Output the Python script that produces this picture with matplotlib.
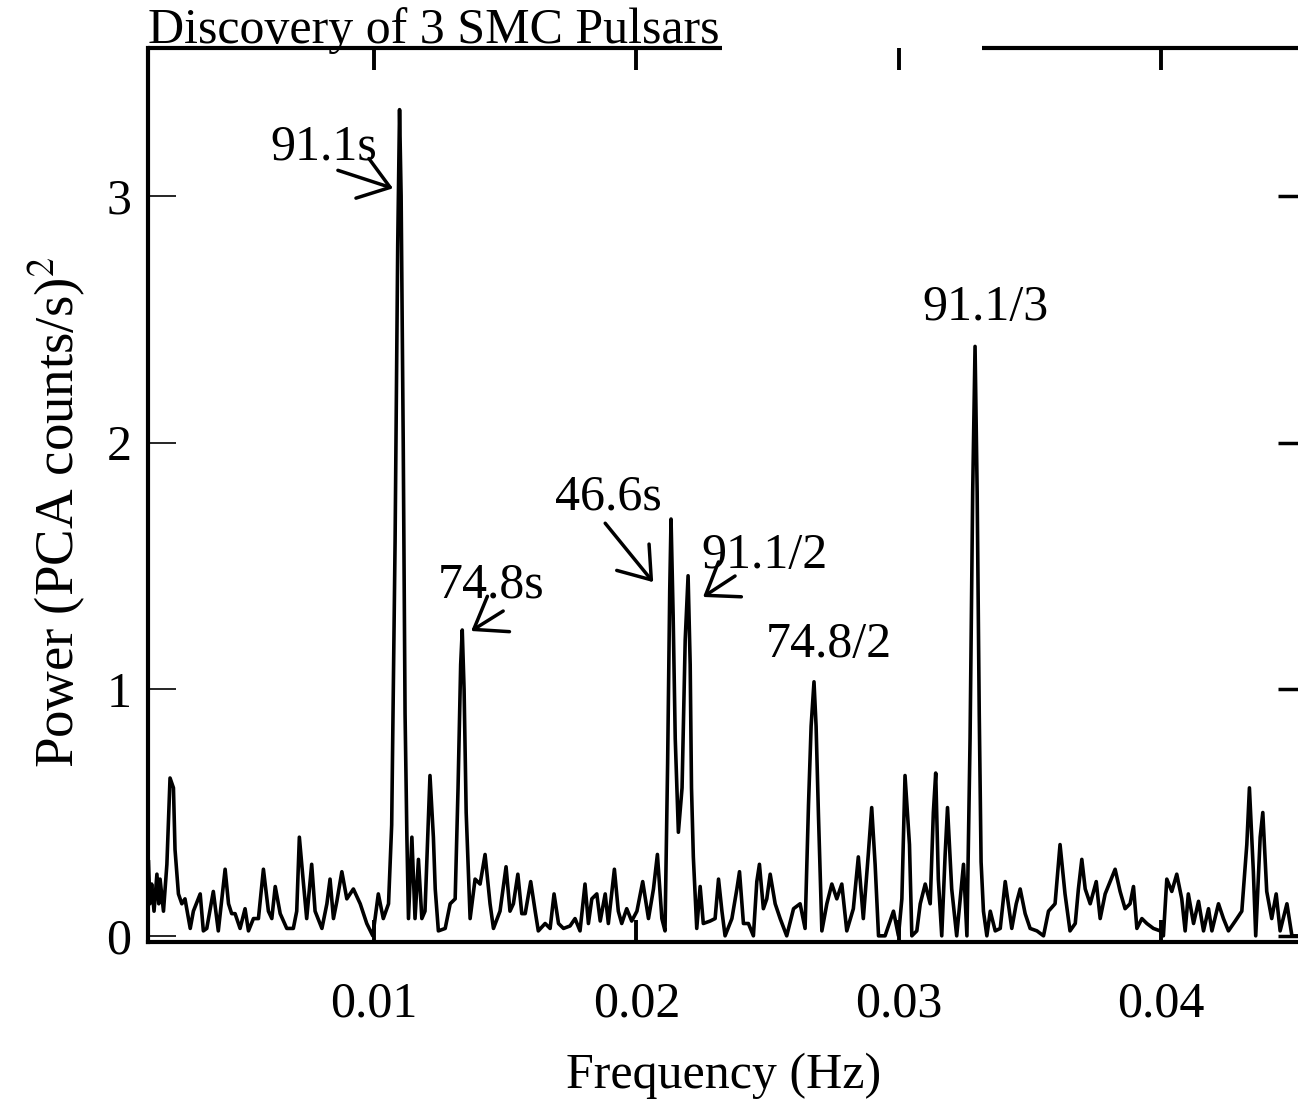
import matplotlib
matplotlib.use("Agg")
import matplotlib.pyplot as plt

plt.rcParams['font.family'] = ['Liberation Serif', 'DejaVu Serif']
plt.rcParams['mathtext.fontset'] = 'stix'

# power spectrum (Hz, (PCA counts/s)^2)
freq = [
    0.00140, 0.00145, 0.00152, 0.00161, 0.00172, 0.00179, 0.00184, 0.00197, 0.00210,
    0.00222, 0.00235, 0.00241, 0.00254, 0.00267, 0.00279, 0.00299, 0.00311, 0.00337,
    0.00349, 0.00362, 0.00387, 0.00406, 0.00432, 0.00445, 0.00457, 0.00470, 0.00489,
    0.00508, 0.00521, 0.00540, 0.00559, 0.00578, 0.00597, 0.00610, 0.00623, 0.00642,
    0.00667, 0.00692, 0.00705, 0.00715, 0.00730, 0.00743, 0.00762, 0.00775, 0.00801,
    0.00820, 0.00832, 0.00845, 0.00858, 0.00877, 0.00896, 0.00921, 0.00947, 0.00972,
    0.00995, 0.01016, 0.01035, 0.01055, 0.01067, 0.01080, 0.01090, 0.01097, 0.01103,
    0.01111, 0.01118, 0.01125, 0.01131, 0.01144, 0.01156, 0.01169, 0.01182, 0.01194,
    0.01213, 0.01226, 0.01233, 0.01245, 0.01271, 0.01290, 0.01309, 0.01320, 0.01330,
    0.01336, 0.01343, 0.01351, 0.01366, 0.01385, 0.01404, 0.01423, 0.01442, 0.01455,
    0.01480, 0.01503, 0.01518, 0.01531, 0.01548, 0.01563, 0.01576, 0.01597, 0.01614,
    0.01626, 0.01652, 0.01671, 0.01686, 0.01703, 0.01722, 0.01747, 0.01766, 0.01785,
    0.01804, 0.01817, 0.01830, 0.01849, 0.01862, 0.01881, 0.01893, 0.01916, 0.01931,
    0.01944, 0.01963, 0.01982, 0.02002, 0.02024, 0.02046, 0.02065, 0.02080, 0.02097,
    0.02109, 0.02119, 0.02127, 0.02132, 0.02140, 0.02148, 0.02160, 0.02174, 0.02186,
    0.02197, 0.02205, 0.02210, 0.02217, 0.02230, 0.02243, 0.02255, 0.02281, 0.02300,
    0.02313, 0.02326, 0.02338, 0.02364, 0.02383, 0.02393, 0.02408, 0.02427, 0.02446,
    0.02459, 0.02469, 0.02484, 0.02497, 0.02510, 0.02529, 0.02548, 0.02573, 0.02599,
    0.02624, 0.02643, 0.02656, 0.02666, 0.02677, 0.02685, 0.02694, 0.02707, 0.02726,
    0.02745, 0.02764, 0.02783, 0.02802, 0.02827, 0.02846, 0.02865, 0.02884, 0.02897,
    0.02910, 0.02923, 0.02948, 0.02980, 0.02999, 0.03012, 0.03024, 0.03041, 0.03050,
    0.03069, 0.03082, 0.03101, 0.03120, 0.03132, 0.03141, 0.03151, 0.03164, 0.03177,
    0.03186, 0.03202, 0.03221, 0.03247, 0.03260, 0.03272, 0.03282, 0.03291, 0.03299,
    0.03307, 0.03314, 0.03323, 0.03336, 0.03349, 0.03368, 0.03387, 0.03406, 0.03418,
    0.03431, 0.03448, 0.03463, 0.03482, 0.03501, 0.03527, 0.03552, 0.03571, 0.03596,
    0.03615, 0.03634, 0.03653, 0.03673, 0.03685, 0.03698, 0.03711, 0.03730, 0.03753,
    0.03768, 0.03787, 0.03806, 0.03825, 0.03844, 0.03863, 0.03882, 0.03895, 0.03908,
    0.03927, 0.03946, 0.03971, 0.03997, 0.04009, 0.04022, 0.04041, 0.04060, 0.04079,
    0.04092, 0.04104, 0.04124, 0.04143, 0.04162, 0.04181, 0.04194, 0.04219, 0.04238,
    0.04257, 0.04283, 0.04308, 0.04327, 0.04337, 0.04352, 0.04361, 0.04378, 0.04388,
    0.04403, 0.04422, 0.04439, 0.04454, 0.04480, 0.04499, 0.04523,
]
power = [
    0.30, 0.13, 0.21, 0.10, 0.25, 0.13, 0.23, 0.10, 0.29,
    0.64, 0.60, 0.35, 0.17, 0.13, 0.15, 0.03, 0.10, 0.17,
    0.02, 0.03, 0.18, 0.02, 0.27, 0.13, 0.09, 0.09, 0.03,
    0.11, 0.02, 0.07, 0.07, 0.27, 0.10, 0.07, 0.20, 0.09,
    0.03, 0.03, 0.10, 0.40, 0.22, 0.07, 0.29, 0.10, 0.03,
    0.13, 0.23, 0.07, 0.14, 0.26, 0.15, 0.19, 0.13, 0.05,
    0.00, 0.17, 0.07, 0.13, 0.45, 1.60, 2.80, 3.35, 3.00,
    2.00, 0.90, 0.40, 0.07, 0.40, 0.07, 0.31, 0.07, 0.10,
    0.65, 0.40, 0.19, 0.02, 0.03, 0.13, 0.15, 0.60, 1.10,
    1.24, 1.00, 0.50, 0.07, 0.23, 0.21, 0.33, 0.13, 0.03,
    0.10, 0.28, 0.10, 0.13, 0.25, 0.09, 0.09, 0.22, 0.10,
    0.02, 0.05, 0.03, 0.17, 0.05, 0.03, 0.04, 0.07, 0.02,
    0.21, 0.05, 0.15, 0.17, 0.06, 0.17, 0.05, 0.27, 0.10,
    0.05, 0.11, 0.06, 0.10, 0.22, 0.07, 0.19, 0.33, 0.07,
    0.02, 0.70, 1.40, 1.69, 1.30, 0.80, 0.42, 0.60, 1.20,
    1.46, 1.10, 0.60, 0.32, 0.03, 0.20, 0.05, 0.06, 0.07,
    0.23, 0.10, 0.00, 0.07, 0.19, 0.26, 0.05, 0.05, 0.00,
    0.22, 0.29, 0.11, 0.15, 0.25, 0.13, 0.07, 0.00, 0.11,
    0.13, 0.03, 0.53, 0.85, 1.03, 0.85, 0.49, 0.02, 0.13,
    0.21, 0.15, 0.21, 0.02, 0.11, 0.32, 0.07, 0.33, 0.52,
    0.29, 0.00, 0.00, 0.10, 0.00, 0.15, 0.65, 0.37, 0.00,
    0.02, 0.13, 0.21, 0.13, 0.50, 0.66, 0.23, 0.00, 0.33,
    0.52, 0.19, 0.00, 0.29, 0.00, 0.80, 1.80, 2.39, 1.80,
    0.90, 0.30, 0.10, 0.00, 0.10, 0.02, 0.03, 0.22, 0.13,
    0.03, 0.13, 0.19, 0.09, 0.03, 0.02, 0.00, 0.10, 0.13,
    0.37, 0.17, 0.02, 0.05, 0.19, 0.31, 0.19, 0.13, 0.22,
    0.07, 0.17, 0.22, 0.27, 0.18, 0.11, 0.13, 0.20, 0.03,
    0.07, 0.05, 0.03, 0.02, 0.00, 0.23, 0.18, 0.25, 0.15,
    0.02, 0.17, 0.05, 0.14, 0.02, 0.11, 0.02, 0.13, 0.07,
    0.02, 0.06, 0.10, 0.37, 0.60, 0.26, 0.00, 0.40, 0.50,
    0.18, 0.07, 0.17, 0.02, 0.13, 0.00, 0.00,
]

# peak labels
labels = ['91.1s', '74.8s', '46.6s', '91.1/2', '74.8/2', '91.1/3']
label_xy = [(0.00809, 3.197), (0.01446, 1.422), (0.01893, 1.779),
            (0.02487, 1.540), (0.02735, 1.179), (0.03330, 2.545)]
# arrows: (tail, head) or None
arrows = [((0.00862, 3.104), (0.01072, 3.031)),
          ((0.01492, 1.317), (0.01370, 1.236)),
          ((0.01881, 1.673), (0.02064, 1.434)),
          ((0.02376, 1.459), (0.02254, 1.374)),
          None, None]

fig = plt.figure(figsize=(12.98, 11.02), dpi=100)
ax = fig.add_axes([148 / 1298, 160 / 1102, 1151 / 1298, 894 / 1102])

ax.plot(freq, power, color='black', lw=2.6)

ax.set_xlim(0.00138, 0.04526)
ax.set_ylim(-0.025, 3.6)
ax.set_xticks([0.01, 0.02, 0.03, 0.04])
ax.set_xticklabels(['0.01', '0.02', '0.03', '0.04'])
ax.set_yticks([0, 1, 2, 3])
ax.set_yticklabels(['0', '1', '2', '3'])

ax.tick_params(axis='x', direction='in', top=True, bottom=True,
               length=16, width=2.8, pad=28, labelsize=36)
ax.tick_params(axis='y', direction='in', left=True, right=True,
               length=20, width=1.2, pad=12, labelsize=36)
for t in ax.yaxis.get_major_ticks():
    t.tick2line.set_markersize(15)
    t.tick2line.set_markeredgewidth(2.5)

for side in ['left', 'bottom']:
    ax.spines[side].set_linewidth(3)
ax.spines['right'].set_visible(False)
ax.spines['top'].set_visible(False)
# top frame, broken after the underlined title
ax.plot([0, 0.499], [1, 1], transform=ax.transAxes, color='black', lw=3,
        clip_on=False, solid_capstyle='butt')
ax.plot([0.725, 1.0], [1, 1], transform=ax.transAxes, color='black', lw=3,
        clip_on=False, solid_capstyle='butt')

ax.text(0.0, 1.006, 'Discovery of 3 SMC Pulsars', transform=ax.transAxes,
        ha='left', va='baseline', fontsize=36)

ax.set_xlabel('Frequency (Hz)', fontsize=36, labelpad=18)
ax.set_ylabel('Power (PCA counts/s)$^2$', fontsize=39.5)
ax.yaxis.set_label_coords(-0.052, 0.481)

for lab, (tx, ty), arr in zip(labels, label_xy, arrows):
    ax.text(tx, ty, lab, ha='center', va='center', fontsize=36)
    if arr is not None:
        ax.annotate('', xy=arr[1], xytext=arr[0],
                    arrowprops=dict(arrowstyle='->, head_length=0.7, head_width=0.5',
                                    lw=2.5, color='black', mutation_scale=30,
                                    shrinkA=0, shrinkB=0))

fig.savefig('out.png', dpi=100)
